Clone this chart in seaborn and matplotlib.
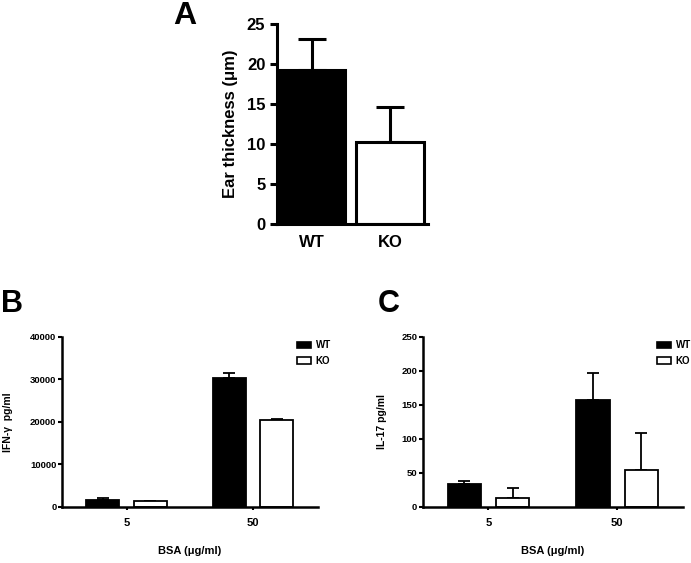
import numpy as np
import pandas as pd
import matplotlib
matplotlib.use("Agg")
import matplotlib.pyplot as plt
import seaborn as sns

# Panel A: ear thickness
ear_groups = ["WT", "KO"]
ear_mean = [19.25, 10.25]
ear_sem = [3.85, 4.35]

# Panels B and C: cytokines by BSA dose
bsa_doses = ["5", "50"]
genotypes = ["WT", "KO"]
ifng_wt = [1750, 30300]
ifng_ko = [1300, 20350]
ifng_wt_sem = [250, 1300]
ifng_ko_sem = [120, 250]
il17_wt = [33.5, 157]
il17_ko = [13.7, 54.5]
il17_wt_sem = [5, 39.5]
il17_ko_sem = [14, 54.5]

sns.set_style("ticks")
plt.rcParams['font.family'] = ['Liberation Sans', 'DejaVu Sans']
plt.rcParams['font.weight'] = 'bold'
plt.rcParams['axes.labelweight'] = 'bold'
for k in ['text.color', 'axes.labelcolor', 'xtick.color', 'ytick.color', 'axes.edgecolor']:
    plt.rcParams[k] = 'black'

colors = {"WT": "black", "KO": "white"}


def add_up_errors(ax, errs_by_container, lw, cap):
    # draw upper-only error bars on top of seaborn's bars
    for cont, errs in zip(ax.containers, errs_by_container):
        xs = [p.get_x() + p.get_width() / 2 for p in cont.patches]
        ys = [p.get_height() for p in cont.patches]
        ax.errorbar(xs, ys, yerr=[np.zeros(len(errs)), errs], fmt='none',
                    ecolor='black', elinewidth=lw, capsize=cap, capthick=lw,
                    zorder=1)


fig = plt.figure(figsize=(6.91, 5.63), dpi=100)

# ---- Panel A ----
axA = fig.add_axes([0.401, 0.602, 0.218, 0.355])
sns.barplot(x=ear_groups, y=ear_mean, hue=ear_groups, palette=colors,
            edgecolor="black", linewidth=2.2, width=0.86, legend=False,
            errorbar=None, ax=axA, zorder=2)
add_up_errors(axA, [[e] for e in ear_sem], 2.2, 10)
axA.set_ylim(0, 25)
axA.set_yticks([0, 5, 10, 15, 20, 25])
axA.set_xlim(-0.44, 1.48)
axA.set_ylabel("Ear thickness (\u03bcm)", fontsize=12, fontweight='bold', labelpad=6)
axA.tick_params(axis='y', labelsize=12, width=2.2, length=5)
axA.tick_params(axis='x', labelsize=12, length=0, pad=8)
for lab in axA.get_xticklabels() + axA.get_yticklabels():
    lab.set_fontweight('bold')
for s in ["left", "bottom"]:
    axA.spines[s].set_linewidth(2.2)
sns.despine(ax=axA)
fig.text(0.268, 0.972, "A", fontsize=23, fontweight='bold', ha='center', va='center')


def cytokine_panel(rect, wt, ko, wt_sem, ko_sem, ymax, yticks, ylabel, ylabelpad,
                   leg_x, letter, letter_x):
    ax = fig.add_axes(rect)
    df = pd.DataFrame({
        "dose": bsa_doses * 2,
        "genotype": [genotypes[0]] * 2 + [genotypes[1]] * 2,
        "value": list(wt) + list(ko),
    })
    sns.barplot(data=df, x="dose", y="value", hue="genotype", palette=colors,
                edgecolor="black", linewidth=1.3, width=0.75, gap=0.31,
                errorbar=None, ax=ax, zorder=2)
    add_up_errors(ax, [wt_sem, ko_sem], 1.3, 4.5)
    ax.set_ylim(0, ymax)
    ax.set_yticks(yticks)
    ax.set_xlim(-0.51, 1.51)
    ax.set_xlabel("BSA (\u03bcg/ml)", fontsize=8, fontweight='bold', labelpad=13)
    ax.set_ylabel(ylabel, fontsize=7.5, fontweight='bold', labelpad=ylabelpad)
    ax.tick_params(axis='y', labelsize=6.8, width=1.5, length=3, pad=1)
    ax.tick_params(axis='x', labelsize=8, width=1.5, length=2, pad=6)
    for lab in ax.get_xticklabels() + ax.get_yticklabels():
        lab.set_fontweight('bold')
    for s in ["left", "bottom"]:
        ax.spines[s].set_linewidth(1.8)
    sns.despine(ax=ax)
    leg = ax.legend(title=None, frameon=False, loc='upper left',
                    bbox_to_anchor=(leg_x, 0.98), handlelength=1.5,
                    handleheight=0.7, handletextpad=0.45, labelspacing=0.6,
                    borderpad=0, borderaxespad=0, prop={'weight': 'bold', 'size': 7})
    for h in leg.legend_handles:
        h.set_linewidth(1.2)
    fig.text(letter_x, 0.46, letter, fontsize=22, fontweight='bold', ha='center', va='center')
    return ax


cytokine_panel([0.0897, 0.0995, 0.370, 0.302], ifng_wt, ifng_ko, ifng_wt_sem, ifng_ko_sem,
               40000, [0, 10000, 20000, 30000, 40000], "IFN-\u03b3  pg/ml", 12, 0.918, "B", 0.017)
cytokine_panel([0.612, 0.0995, 0.376, 0.302], il17_wt, il17_ko, il17_wt_sem, il17_ko_sem,
               250, [0, 50, 100, 150, 200, 250], "IL-17 pg/ml", 10, 0.9, "C", 0.562)

fig.savefig("out.png", dpi=100)
